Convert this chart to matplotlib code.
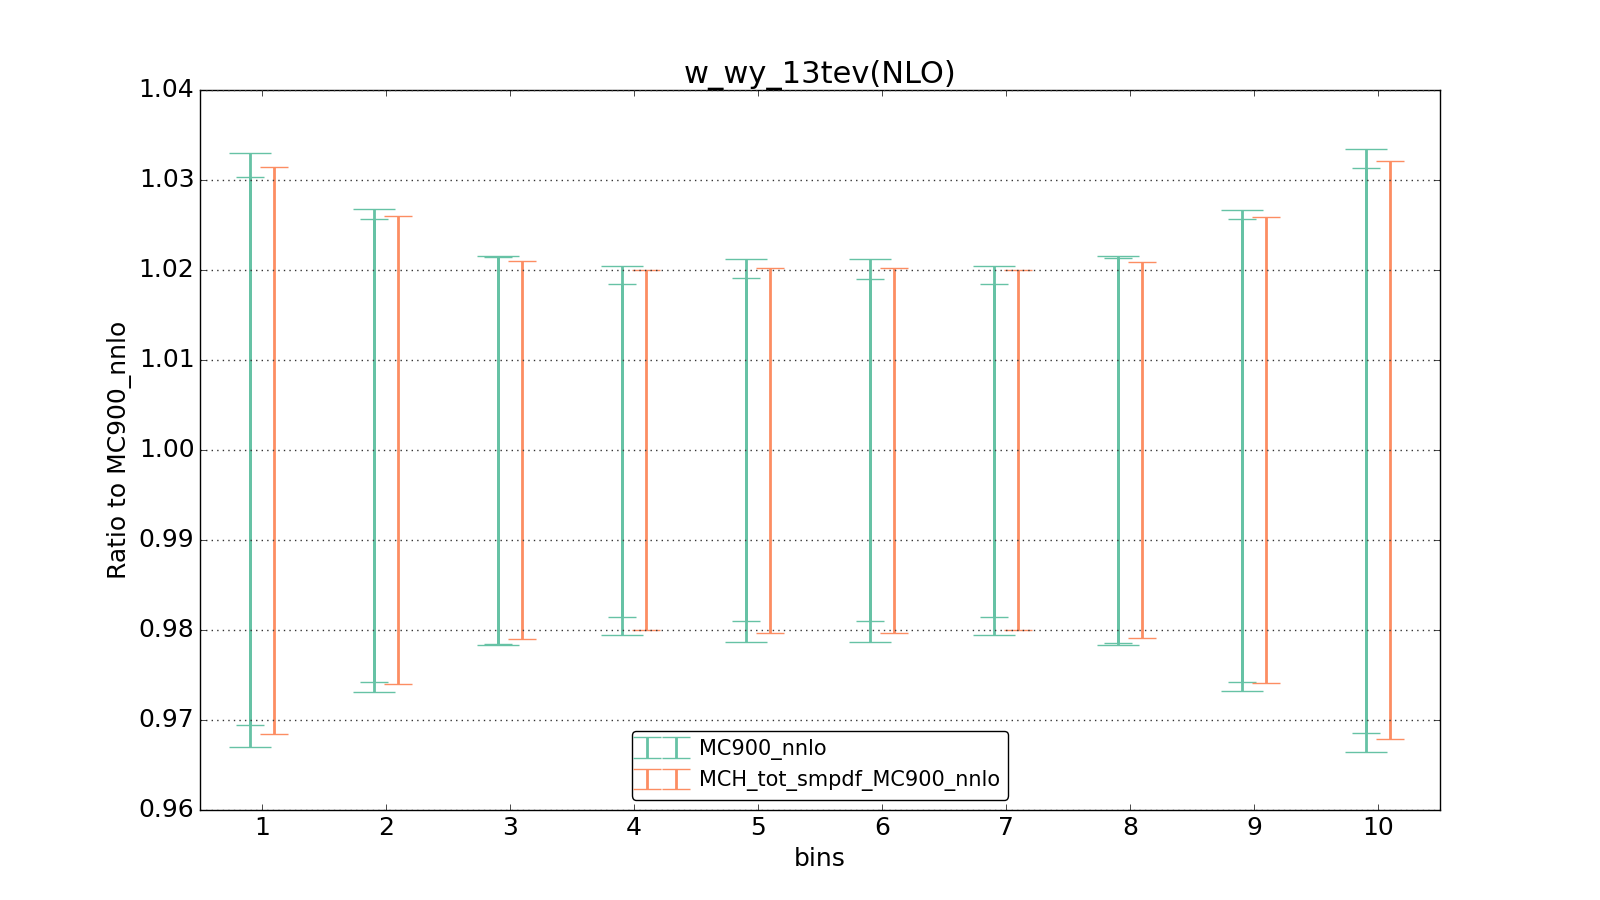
import matplotlib
matplotlib.use("Agg")
import matplotlib.pyplot as plt
from matplotlib.ticker import FormatStrFormatter
import numpy as np

plt.style.use("classic")
plt.rcParams['font.family'] = ['DejaVu Sans']

bins = [1, 2, 3, 4, 5, 6, 7, 8, 9, 10]
central = [1.0] * 10

# MC900_nnlo: outer band (wide caps) and inner band (narrow caps)
mc900_outer_hi = [1.0330, 1.0268, 1.0216, 1.0204, 1.0212, 1.0212, 1.0204, 1.0216, 1.0267, 1.0335]
mc900_outer_lo = [0.9670, 0.9731, 0.9783, 0.9795, 0.9787, 0.9787, 0.9795, 0.9783, 0.9732, 0.9664]
mc900_inner_hi = [1.0303, 1.0257, 1.0214, 1.0185, 1.0191, 1.0190, 1.0185, 1.0213, 1.0257, 1.0313]
mc900_inner_lo = [0.9694, 0.9742, 0.9785, 0.9814, 0.9810, 0.9810, 0.9814, 0.9786, 0.9742, 0.9686]

# MCH_tot_smpdf_MC900_nnlo
mch_hi = [1.0315, 1.0260, 1.0210, 1.0200, 1.0202, 1.0202, 1.0200, 1.0209, 1.0259, 1.0321]
mch_lo = [0.9684, 0.9740, 0.9790, 0.9800, 0.9797, 0.9797, 0.9800, 0.9791, 0.9741, 0.9679]

labels = ["MC900_nnlo", "MCH_tot_smpdf_MC900_nnlo"]
title = "w_wy_13tev(NLO)"
green = "#66c2a5"
orange = "#fc8d62"

fig = plt.figure(figsize=(16, 9), dpi=100, facecolor="white")
ax = fig.add_subplot(111)

x = np.array(bins, dtype=float)
c = np.array(central)

def yerr(lo, hi):
    return [c - np.array(lo), np.array(hi) - c]

ax.errorbar(x - 0.1, c, yerr=yerr(mc900_outer_lo, mc900_outer_hi), fmt="none",
            ecolor=green, elinewidth=2, capsize=15, capthick=1)
ax.errorbar(x - 0.1, c, yerr=yerr(mc900_inner_lo, mc900_inner_hi), fmt="none",
            ecolor=green, elinewidth=2, capsize=10, capthick=1, label=labels[0])
ax.errorbar(x + 0.1, c, yerr=yerr(mch_lo, mch_hi), fmt="none",
            ecolor=orange, elinewidth=2, capsize=10, capthick=1, label=labels[1])

ax.set_xlim(0.5, 10.5)
ax.set_ylim(0.96, 1.04)
ax.set_xticks(bins)
ax.set_yticks(np.arange(0.96, 1.0401, 0.01))
ax.yaxis.set_major_formatter(FormatStrFormatter('%.2f'))
ax.tick_params(labelsize=18)
ax.yaxis.grid(True, linestyle=":", color="0.2", linewidth=1)
ax.xaxis.grid(False)

ax.set_title(title, fontsize=22)
ax.set_xlabel("bins", fontsize=18)
ax.set_ylabel("Ratio to MC900_nnlo", fontsize=18)

leg = ax.legend(loc="lower center", fontsize=15, numpoints=2, fancybox=True)
leg.get_frame().set_edgecolor("black")

fig.savefig("out.png", dpi=100, facecolor="white")
